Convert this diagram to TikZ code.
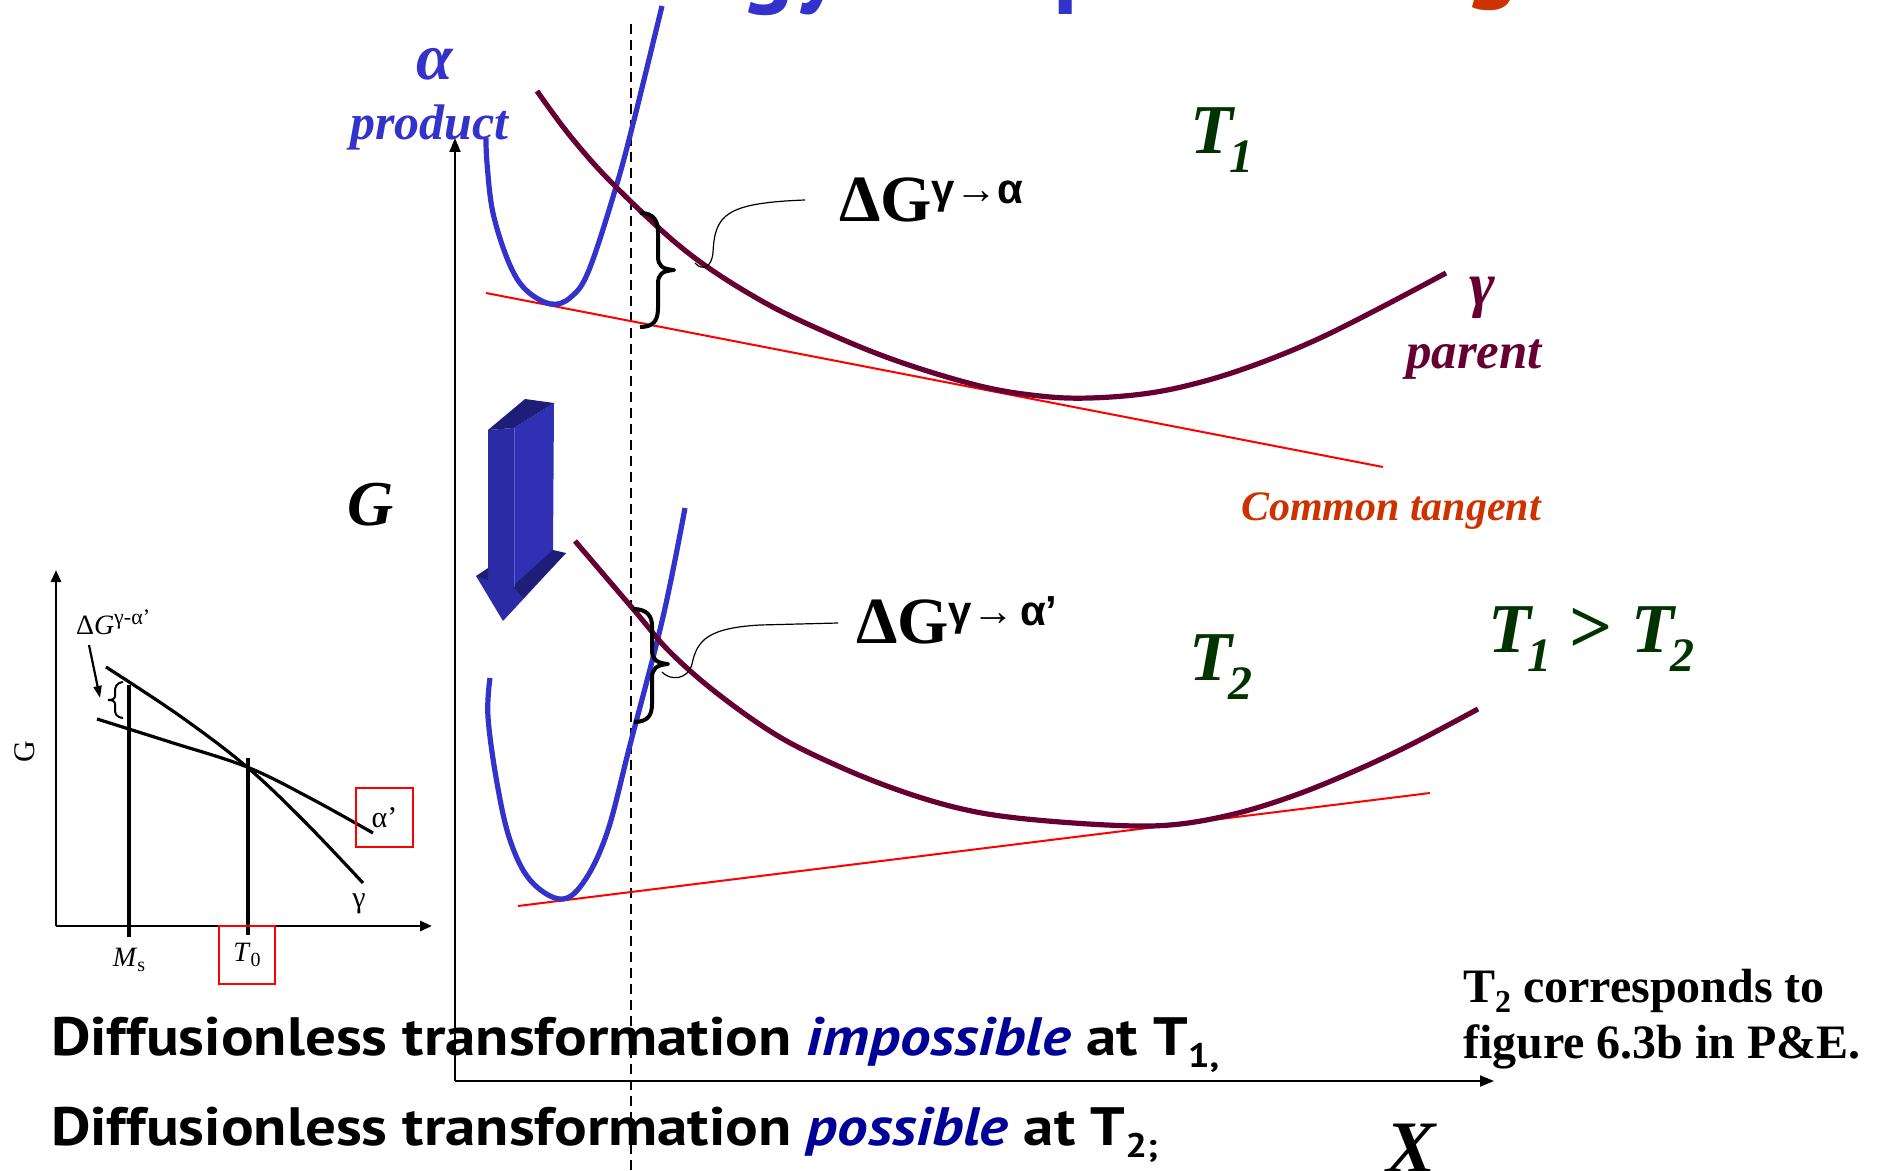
\documentclass[tikz,border=0pt]{standalone}
\usepackage{fontspec}
\setmainfont{Liberation Serif}
\newfontfamily\sansf{Liberation Sans}
\newfontfamily\ptf{PT Sans}
\usetikzlibrary{arrows.meta}
\definecolor{blueC}{RGB}{51,51,204}
\definecolor{maroonC}{RGB}{102,0,51}
\definecolor{greenC}{RGB}{0,51,0}
\definecolor{orangeC}{RGB}{204,51,0}
\definecolor{navyC}{RGB}{0,0,153}
\definecolor{arrFront}{RGB}{43,43,166}
\definecolor{arrSide}{RGB}{48,48,180}
\definecolor{arrDark}{RGB}{30,30,120}
\newcommand\fsz[1]{\fontsize{#1}{#1}\selectfont}
\newcommand\Tlab[1]{{\bfseries\itshape\fsz{35pt}T\kern-1.5pt\raisebox{-9.5pt}{\fsz{24pt}#1}}}
\begin{document}
\begin{tikzpicture}[x=0.5pt,y=-0.5pt,
  lbl/.style={inner sep=0pt,outer sep=0pt,anchor=base west},
  lblc/.style={inner sep=0pt,outer sep=0pt,anchor=base},
  axisline/.style={line width=1pt,-{Triangle[length=7pt,width=5.5pt]}},
  insetaxis/.style={line width=1.4pt,-{Triangle[length=6pt,width=5pt]}},
  alphacurve/.style={blueC,line width=2.6pt},
  gammacurve/.style={maroonC,line width=2.6pt},
  tangentline/.style={red,line width=1pt},
  bracepath/.style={black,line width=2pt,line join=round},
  leader/.style={black,line width=0.6pt},
  insetline/.style={black,line width=1.6pt},
  redbox/.style={draw=red,line width=0.8pt,inner sep=0pt},
  dashline/.style={black,line width=0.7pt,dash pattern=on 5pt off 3pt}]
\useasboundingbox (0,0) rectangle (1877,1171);

% cut-off title fragments (only their lowest parts lie inside the picture)
\node[lbl,text=blueC] (ttl1) at (740,-5) {\ptf\bfseries\fsz{50pt}gy};
\node[lbl,text=blueC] (ttl2) at (1053,-5) {\ptf\bfseries\fsz{50pt}p};
\node[lbl,text=orangeC] (ttl3) at (1464,-10) {\ptf\bfseries\fsz{50pt}g};

% main axes
\coordinate (O) at (455,1081);
\coordinate (Ytip) at (455,138);
\coordinate (Xtip) at (1494,1081);
\draw[axisline] (O) -- (Ytip);
\draw[axisline] (O) -- (Xtip);

% dashed composition line
\coordinate (dtop) at (631,24);
\coordinate (dbot) at (631,1171);
\draw[dashline] (dtop) -- (dbot);

% ---------- T1 ----------
\draw[tangentline] (486,293) -- (1383,467);
\draw[alphacurve] plot[smooth,tension=0.6] coordinates {(486,138) (487,163) (493,213) (509,263) (526,290) (551,304) (571,297) (589,270) (616,187) (634,120) (662,6)};
\draw[gammacurve] plot[smooth,tension=0.6] coordinates {(537,91) (571,137) (616,187) (687,252) (760,300) (830,334) (900,362) (980,386) (1040,396) (1090,398) (1150,393) (1205,381) (1260,363) (1318,339) (1380,308) (1446,273)};
\draw[bracepath] (640,213) .. controls (654,213) and (658,221) .. (658,232) -- (658,256) .. controls (658,266) and (662,269) .. (674,270) .. controls (662,271) and (658,274) .. (658,284) -- (658,308) .. controls (658,320) and (654,327) .. (640,327);
\draw[leader] (695,263) .. controls (702,271) and (712,268) .. (713,252) .. controls (715,215) and (725,203) .. (805,200);

\node[lbl] (dG1) at (839,222) {\bfseries\fsz{33pt}ΔG\raisebox{9pt}{\sansf\fsz{21pt}γ→α}};
\node[lblc,text=blueC] (alpha) at (435,80) {\bfseries\itshape\fsz{33pt}α};
\node[lbl,text=blueC] (product) at (350,140) {\bfseries\itshape\fsz{25pt}product};
\node[lbl,text=greenC] (T1) at (1190,154) {\Tlab{1}};
\node[lblc,text=maroonC] (gam) at (1482,306) {\bfseries\itshape\fsz{31pt}γ};
\node[lbl,text=maroonC] (parent) at (1406,368) {\bfseries\itshape\fsz{25.5pt}parent};
\node[lbl,text=orangeC] (ctan) at (1241,520) {\bfseries\itshape\fsz{21pt}Common tangent};
\node[lbl] (Glab) at (347,525) {\bfseries\itshape\fsz{32pt}G};

% ---------- 3D arrow ----------
\fill[arrFront] (476,576) -- (566,553) -- (503,621) -- cycle;
\fill[arrFront] (488,430) -- (514,428) -- (514,590) -- (488,580) -- cycle;
\fill[arrSide] (514,428) -- (554,403) -- (553,552) -- (514,587) -- cycle;
\fill[arrDark] (488,430) -- (525,399) -- (554,403) -- (514,428) -- cycle;
\fill[arrDark] (513,586) -- (553,550) -- (566,553) -- (523,598) -- cycle;
\fill[arrDark] (476,576) -- (488,568) -- (488,580) -- cycle;
\draw[blueC!80,line width=0.4pt] (514,428) -- (514,587);

% ---------- T2 ----------
\draw[tangentline] (518,906) -- (1430,793);
\draw[alphacurve] plot[smooth,tension=0.6] coordinates {(490,678) (488,717) (497,783) (510,840) (530,880) (560,899) (583,883) (607,833) (630,745) (663,617) (685,508)};
\draw[gammacurve] plot[smooth,tension=0.6] coordinates {(575,541) (634,610) (670,652) (718,694) (778,736) (838,766) (898,790) (958,808) (1017,818) (1107,825) (1170,825) (1230,815) (1290,797) (1350,773) (1410,745) (1478,709)};
\draw[bracepath] (633,609) .. controls (647,609) and (652,616) .. (652,626) -- (652,650) .. controls (652,659) and (656,663) .. (668,664) .. controls (656,665) and (652,669) .. (652,678) -- (652,704) .. controls (652,715) and (648,722) .. (634,722);
\draw[leader] (662,672) .. controls (670,681) and (688,680) .. (692,664) .. controls (697,640) and (708,628) .. (760,625) -- (838,623);

\node[lbl] (dG2) at (856,643) {\bfseries\fsz{33pt}ΔG\raisebox{9pt}{\sansf\fsz{21pt}γ→\kern3pt α’}};
\node[lbl,text=greenC] (T2) at (1189,680) {\Tlab{2}};
\node[lbl,text=greenC] (T1T2) at (1488,652) {\Tlab{1}\hspace{9pt}{\bfseries\fsz{38pt}>}\hspace{9pt}\Tlab{2}};

% ---------- inset ----------
\coordinate (iO) at (56,926);
\coordinate (iY) at (56,570);
\coordinate (iX) at (432,926);
\draw[insetaxis] (iO) -- (iY);
\draw[insetaxis] (iO) -- (iX);
\draw[insetline] (129,685) -- (129,937);
\draw[insetline] (248,758) -- (248,935);
\draw[insetline] plot[smooth,tension=0.6] coordinates {(106,667) (180,716) (247,767) (305,822) (363,883)};
\draw[insetline] plot[smooth,tension=0.6] coordinates {(97,719) (170,742) (247,767) (310,798) (373,833)};
\draw[black,line width=1pt] (123,682) .. controls (116,683) and (115,687) .. (115,692) -- (115,696) .. controls (115,699) and (112,700) .. (108,700) .. controls (112,700) and (115,701) .. (115,704) -- (115,709) .. controls (115,714) and (116,717) .. (123,718);
\coordinate (iarrS) at (89,645);
\coordinate (iarrE) at (100,698);
\draw[black,line width=1.1pt,-{Triangle[length=6pt,width=4pt]}] (iarrS) -- (iarrE);
\node[lbl] (idG) at (76,634) {\fsz{14pt}Δ\textit{G}\raisebox{5pt}{\fsz{11pt}γ-α’}};
\node[lblc,rotate=90] (iG) at (34,752) {\fsz{15pt}G};
\node[redbox,minimum width=28.5pt,minimum height=29.5pt] (ibox1) at (384.5,817.5) {\fsz{15pt}α’};
\node[lblc] (igam) at (359,907) {\fsz{15pt}γ};
\node[lblc] (iMs) at (129,966) {\fsz{14pt}\textit{M}\raisebox{-2.5pt}{\fsz{10pt}s}};
\node[redbox,minimum width=28pt,minimum height=29pt] (ibox2) at (247,955) {\fsz{14pt}\textit{T}\raisebox{-2.5pt}{\fsz{10pt}0}};

% ---------- notes ----------
\node[lbl] (Xlab) at (1386,1172) {\bfseries\itshape\fsz{37pt}X};
\node[lbl] (note1) at (1463,1002) {\bfseries\fsz{24pt}T\raisebox{-5pt}{\fsz{16pt}2} corresponds to};
\node[lbl] (note2) at (1463,1058) {\bfseries\fsz{24pt}figure 6.3b in P\&E.};
\node[lbl] (line1) at (51,1055) {\scalebox{1.13}[1]{\ptf\bfseries\fsz{27pt}Diffusionless transformation {\itshape\color{navyC}impossible} at T\raisebox{-6pt}{\fsz{17pt}1,}}};
\node[lbl] (line2) at (51,1145) {\scalebox{1.13}[1]{\ptf\bfseries\fsz{27pt}Diffusionless transformation {\itshape\color{navyC}possible} at T\raisebox{-6pt}{\fsz{17pt}2;}}};
\end{tikzpicture}
\end{document}
